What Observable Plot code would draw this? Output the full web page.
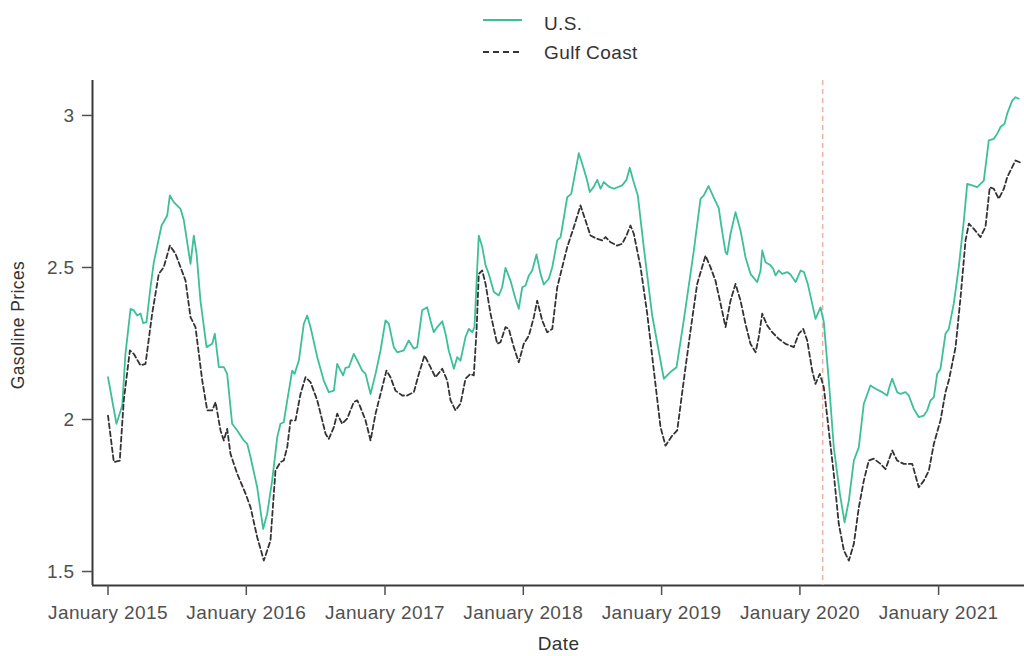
<!DOCTYPE html>
<html>
<head>
<meta charset="utf-8">
<script src="https://cdn.jsdelivr.net/npm/d3@7"></script>
<script src="https://cdn.jsdelivr.net/npm/@observablehq/plot@0.6"></script>
<style>
  html, body { margin: 0; padding: 0; background: #fff; }
  #legend { width: 1024px; height: 70px; display: block; }
  #chart svg { display: block; }
</style>
</head>
<body>
<svg id="legend" width="1024" height="70"></svg>
<div id="chart"></div>
<script>
// ---- Data (decimal years) ----
const seriesNames = ["U.S.", "Gulf Coast"];

const usYears = [2015.000,2015.061,2015.103,2015.126,2015.163,2015.186,2015.211,2015.235,2015.254,2015.278,2015.307,2015.331,2015.387,2015.428,2015.447,2015.475,2015.524,2015.548,2015.596,2015.620,2015.640,2015.668,2015.712,2015.753,2015.772,2015.801,2015.837,2015.861,2015.897,2015.934,2015.981,2016.006,2016.030,2016.078,2016.121,2016.150,2016.186,2016.223,2016.246,2016.270,2016.295,2016.331,2016.348,2016.379,2016.415,2016.439,2016.463,2016.512,2016.559,2016.595,2016.632,2016.656,2016.680,2016.699,2016.716,2016.740,2016.776,2016.801,2016.837,2016.861,2016.897,2016.933,2016.969,2017.005,2017.029,2017.065,2017.090,2017.137,2017.173,2017.210,2017.234,2017.270,2017.306,2017.330,2017.354,2017.379,2017.415,2017.439,2017.462,2017.499,2017.523,2017.547,2017.583,2017.607,2017.632,2017.648,2017.668,2017.679,2017.704,2017.728,2017.751,2017.788,2017.824,2017.848,2017.872,2017.908,2017.944,2017.968,2017.993,2018.017,2018.041,2018.065,2018.096,2018.125,2018.149,2018.185,2018.210,2018.246,2018.270,2018.318,2018.347,2018.402,2018.434,2018.462,2018.481,2018.510,2018.535,2018.559,2018.582,2018.619,2018.655,2018.715,2018.746,2018.770,2018.795,2018.828,2018.871,2018.932,2019.016,2019.064,2019.108,2019.160,2019.233,2019.281,2019.305,2019.339,2019.377,2019.413,2019.431,2019.462,2019.474,2019.498,2019.534,2019.570,2019.606,2019.642,2019.691,2019.715,2019.727,2019.751,2019.787,2019.806,2019.823,2019.847,2019.871,2019.908,2019.931,2019.968,2020.004,2020.028,2020.056,2020.088,2020.112,2020.148,2020.172,2020.208,2020.244,2020.288,2020.322,2020.353,2020.389,2020.425,2020.461,2020.509,2020.546,2020.594,2020.630,2020.649,2020.666,2020.702,2020.726,2020.762,2020.786,2020.822,2020.858,2020.895,2020.919,2020.943,2020.967,2020.991,2021.015,2021.051,2021.075,2021.111,2021.147,2021.184,2021.208,2021.244,2021.280,2021.328,2021.364,2021.400,2021.425,2021.449,2021.478,2021.497,2021.533,2021.557,2021.581];
const usValues = [2.139,1.986,2.046,2.216,2.364,2.359,2.342,2.349,2.317,2.320,2.435,2.517,2.638,2.671,2.737,2.715,2.693,2.655,2.512,2.605,2.545,2.391,2.238,2.249,2.282,2.172,2.172,2.150,1.986,1.964,1.931,1.920,1.876,1.777,1.640,1.690,1.799,1.942,1.986,1.991,2.063,2.161,2.150,2.194,2.315,2.342,2.304,2.205,2.128,2.090,2.095,2.183,2.161,2.145,2.170,2.172,2.216,2.194,2.161,2.150,2.084,2.150,2.227,2.326,2.315,2.238,2.221,2.227,2.260,2.233,2.238,2.359,2.369,2.326,2.287,2.304,2.323,2.282,2.227,2.167,2.205,2.194,2.271,2.298,2.287,2.304,2.501,2.605,2.567,2.507,2.479,2.419,2.408,2.435,2.499,2.457,2.397,2.364,2.435,2.441,2.474,2.490,2.543,2.479,2.444,2.463,2.501,2.589,2.600,2.731,2.742,2.876,2.830,2.786,2.748,2.766,2.788,2.759,2.781,2.766,2.759,2.770,2.788,2.828,2.786,2.737,2.567,2.342,2.134,2.156,2.172,2.326,2.556,2.726,2.737,2.768,2.730,2.695,2.638,2.550,2.543,2.611,2.682,2.622,2.534,2.479,2.452,2.490,2.556,2.517,2.507,2.496,2.474,2.490,2.479,2.485,2.477,2.452,2.490,2.485,2.446,2.381,2.331,2.369,2.320,2.128,1.909,1.756,1.662,1.734,1.865,1.909,2.052,2.112,2.101,2.090,2.079,2.112,2.134,2.090,2.084,2.090,2.079,2.035,2.008,2.013,2.030,2.063,2.073,2.150,2.167,2.282,2.298,2.381,2.501,2.655,2.775,2.770,2.764,2.786,2.918,2.923,2.940,2.962,2.973,3.006,3.049,3.060,3.055];

const gulfYears = [2015.000,2015.042,2015.085,2015.114,2015.158,2015.186,2015.235,2015.271,2015.319,2015.367,2015.403,2015.447,2015.488,2015.524,2015.560,2015.596,2015.632,2015.681,2015.717,2015.753,2015.777,2015.813,2015.837,2015.861,2015.885,2015.934,2015.994,2016.030,2016.078,2016.126,2016.174,2016.210,2016.246,2016.270,2016.295,2016.319,2016.355,2016.391,2016.427,2016.463,2016.512,2016.572,2016.595,2016.632,2016.656,2016.692,2016.728,2016.776,2016.801,2016.824,2016.861,2016.897,2016.933,2016.969,2017.012,2017.041,2017.077,2017.126,2017.162,2017.210,2017.246,2017.287,2017.330,2017.366,2017.415,2017.451,2017.475,2017.511,2017.547,2017.583,2017.619,2017.643,2017.663,2017.679,2017.704,2017.728,2017.764,2017.812,2017.836,2017.872,2017.896,2017.932,2017.968,2018.004,2018.041,2018.077,2018.101,2018.137,2018.173,2018.210,2018.246,2018.282,2018.318,2018.366,2018.414,2018.450,2018.486,2018.535,2018.571,2018.595,2018.631,2018.679,2018.715,2018.746,2018.775,2018.799,2018.848,2018.896,2018.944,2018.992,2019.028,2019.077,2019.113,2019.160,2019.209,2019.257,2019.317,2019.353,2019.389,2019.426,2019.462,2019.498,2019.534,2019.570,2019.606,2019.642,2019.679,2019.702,2019.727,2019.763,2019.799,2019.847,2019.895,2019.955,2019.991,2020.023,2020.052,2020.088,2020.112,2020.143,2020.172,2020.208,2020.244,2020.280,2020.317,2020.353,2020.389,2020.425,2020.461,2020.497,2020.533,2020.582,2020.618,2020.666,2020.702,2020.750,2020.811,2020.858,2020.895,2020.931,2020.967,2021.015,2021.051,2021.075,2021.124,2021.160,2021.196,2021.220,2021.256,2021.304,2021.340,2021.371,2021.400,2021.436,2021.473,2021.497,2021.533,2021.557,2021.588];
const gulfValues = [2.013,1.860,1.865,2.063,2.227,2.216,2.178,2.183,2.348,2.479,2.501,2.572,2.545,2.501,2.457,2.337,2.304,2.128,2.030,2.030,2.057,1.964,1.931,1.969,1.887,1.821,1.756,1.711,1.613,1.536,1.602,1.832,1.860,1.865,1.909,1.997,1.997,2.084,2.139,2.123,2.063,1.953,1.936,1.975,2.019,1.986,2.003,2.057,2.063,2.040,1.997,1.931,2.019,2.084,2.161,2.139,2.095,2.079,2.079,2.090,2.150,2.211,2.172,2.139,2.167,2.128,2.063,2.030,2.052,2.134,2.150,2.145,2.293,2.479,2.490,2.446,2.348,2.249,2.254,2.304,2.298,2.238,2.188,2.249,2.276,2.337,2.391,2.326,2.287,2.298,2.435,2.501,2.567,2.633,2.704,2.655,2.605,2.594,2.589,2.600,2.583,2.572,2.578,2.605,2.638,2.611,2.501,2.348,2.161,1.975,1.914,1.947,1.964,2.128,2.293,2.446,2.539,2.501,2.457,2.381,2.304,2.391,2.446,2.391,2.315,2.249,2.221,2.271,2.348,2.309,2.287,2.265,2.249,2.238,2.282,2.298,2.260,2.161,2.117,2.150,2.106,1.964,1.821,1.657,1.569,1.536,1.591,1.711,1.799,1.865,1.871,1.854,1.837,1.898,1.865,1.854,1.854,1.777,1.799,1.832,1.920,1.997,2.090,2.128,2.238,2.402,2.589,2.644,2.627,2.600,2.633,2.764,2.759,2.726,2.759,2.797,2.830,2.852,2.846];

const xTickYears = [2015, 2016, 2017, 2018, 2019, 2020, 2021];
const yTicks = [1.5, 2, 2.5, 3];
const eventDate = "2020-03-01";
const xDomainYears = [2014.888, 2021.622];
const yDomain = [1.454, 3.115];

// ---- Build tables ----
const YEAR_MS = 365.25 * 864e5;
const toDate = t => new Date(Date.UTC(2015, 0, 1) + (t - 2015) * YEAR_MS);
const us = usYears.map((t, i) => ({date: toDate(t), value: usValues[i]}));
const gulf = gulfYears.map((t, i) => ({date: toDate(t), value: gulfValues[i]}));
const xDomain = xDomainYears.map(toDate);
const xTicks = xTickYears.map(y => new Date(Date.UTC(y, 0, 1)));

const GREEN = "#3dbf97";
const DARK = "#333333";
const FONT = "'Liberation Sans', Arial, Helvetica, sans-serif";

// ---- Legend (above the plot) ----
const leg = d3.select("#legend");
leg.append("line").attr("x1", 483).attr("x2", 522).attr("y1", 20).attr("y2", 20)
  .attr("stroke", GREEN).attr("stroke-width", 2);
leg.append("line").attr("x1", 483).attr("x2", 522).attr("y1", 52).attr("y2", 52)
  .attr("stroke", DARK).attr("stroke-width", 2).attr("stroke-dasharray", "6,4");
leg.selectAll("text").data(seriesNames).join("text")
  .attr("x", 544).attr("y", (d, i) => i === 0 ? 30 : 58.5)
  .attr("font-family", FONT).attr("font-size", 19).attr("letter-spacing", "0.4px")
  .attr("fill", "#333").text(d => d);

// ---- Plot ----
const chart = Plot.plot({
  width: 1024,
  height: 586,
  marginTop: 10,
  marginLeft: 92,
  marginRight: 0,
  marginBottom: 71,
  style: {fontFamily: FONT, fontSize: "19px", letterSpacing: "0.4px", color: "#505050", background: "#fff"},
  x: {type: "utc", domain: xDomain},
  y: {domain: yDomain},
  marks: [
    Plot.ruleX([xDomain[0]], {stroke: "#3a3a3a", strokeWidth: 2}),
    Plot.ruleY([yDomain[0]], {stroke: "#3a3a3a", strokeWidth: 2}),
    Plot.ruleX([new Date(eventDate)], {stroke: "#eeb0a0", strokeWidth: 1.5, strokeDasharray: "5,4"}),
    Plot.lineY(us, {x: "date", y: "value", stroke: GREEN, strokeWidth: 1.8}),
    Plot.lineY(gulf, {x: "date", y: "value", stroke: DARK, strokeWidth: 1.8, strokeDasharray: "5,3"}),
    Plot.axisX({ticks: xTicks, tickFormat: d3.utcFormat("January %Y"), tickSize: 10, tickPadding: 10, strokeWidth: 1.5, label: null}),
    Plot.axisY({ticks: yTicks, tickFormat: d => String(d), tickSize: 10, tickPadding: 8, strokeWidth: 1.5, label: null}),
    Plot.text(["Date"], {frameAnchor: "bottom", dy: 64, fill: "#333", fontSize: 19}),
    Plot.text(["Gasoline Prices"], {frameAnchor: "left", textAnchor: "middle", dx: -74, dy: -8, rotate: -90, fill: "#333", fontSize: 17.5})
  ]
});
document.getElementById("chart").appendChild(chart);
</script>
</body>
</html>
